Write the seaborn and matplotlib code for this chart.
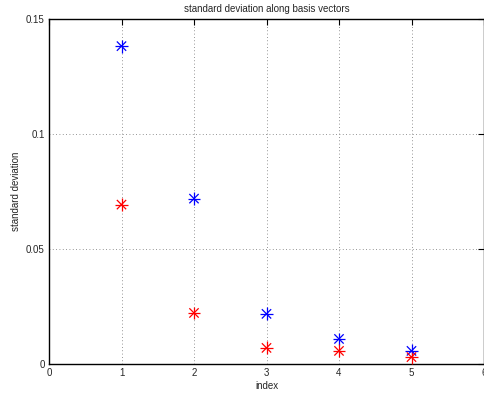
import matplotlib
matplotlib.use("Agg")
import matplotlib.pyplot as plt
import seaborn as sns
import pandas as pd

# du lieu doc tu hinh
index = [1, 2, 3, 4, 5]
std_blue = [0.1382, 0.0719, 0.0218, 0.0109, 0.0057]
std_red = [0.0693, 0.0222, 0.0070, 0.0057, 0.0030]
xticks = [0, 1, 2, 3, 4, 5, 6]
yticks = [0, 0.05, 0.1, 0.15]
ytick_labels = ["0", "0.05", "0.1", "0.15"]

df = pd.DataFrame({
    "index": index * 2,
    "std": std_blue + std_red,
    "series": ["blue"] * len(index) + ["red"] * len(index),
})

sns.set_style("white")
plt.rcParams["font.family"] = ["Liberation Sans", "DejaVu Sans"]

fig = plt.figure(figsize=(4.84, 3.94), dpi=100)
ax = fig.add_axes([49 / 484, 30 / 394, 1 - 49 / 484, (364 - 19) / 394])

palette = {"blue": (0, 0, 1), "red": (1, 0, 0)}
# dau sao kieu MATLAB = '+' chong len 'x'
for mk, s in [("+", 85), ("x", 45)]:
    sns.scatterplot(data=df, x="index", y="std", hue="series", palette=palette,
                    marker=mk, s=s, linewidth=0.9, legend=False, ax=ax,
                    clip_on=False, zorder=3)

ax.set_xlim(0, 6)
ax.set_ylim(0, 0.15)
ax.set_xticks(xticks)
ax.set_yticks(yticks)
ax.set_yticklabels(ytick_labels)
ax.grid(True, linestyle=(0, (1, 3)), color="0.45", linewidth=0.6)
ax.tick_params(direction="in", length=4, width=0.8, labelsize=7,
               top=True, right=True, color="k", pad=3)
for sp in ax.spines.values():
    sp.set_color("k")
    sp.set_linewidth(1.0)

ax.set_title("standard deviation along basis vectors", fontsize=7, pad=5)
ax.set_xlabel("index", fontsize=7, labelpad=2)
ax.set_ylabel("standard deviation", fontsize=7, labelpad=4)

fig.savefig("out.png", dpi=100)
